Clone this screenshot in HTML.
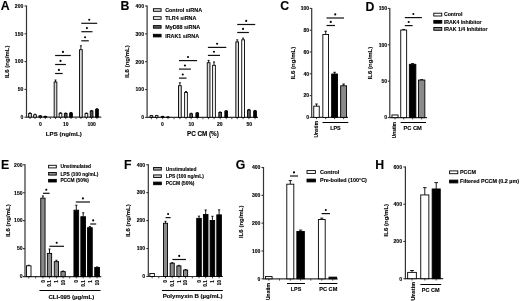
<!DOCTYPE html>
<html><head><meta charset="utf-8"><style>
html,body{margin:0;padding:0;background:#fff;}
body{width:520px;height:301px;overflow:hidden;}
svg{display:block;will-change:transform;filter:blur(0.3px);}
text{font-family:"Liberation Sans", sans-serif;font-weight:bold;fill:#000;stroke:#000;stroke-width:0.12px;}
</style></head><body>
<svg width="520" height="301" viewBox="0 0 520 301">
<rect x="0" y="0" width="520" height="301" fill="#fff"/>
<text x="0.7" y="9.8" font-size="12.3" stroke="#000" stroke-width="0.55">A</text>
<line x1="26.5" y1="5.5" x2="26.5" y2="117.7" stroke="#333" stroke-width="1.2"/>
<line x1="24.5" y1="117.2" x2="26.5" y2="117.2" stroke="#333" stroke-width="1.1"/>
<text x="23.3" y="119.04" font-size="5.1" text-anchor="end">0</text>
<line x1="24.5" y1="89.4" x2="26.5" y2="89.4" stroke="#333" stroke-width="1.1"/>
<text x="23.3" y="91.24" font-size="5.1" text-anchor="end">50</text>
<line x1="24.5" y1="61.6" x2="26.5" y2="61.6" stroke="#333" stroke-width="1.1"/>
<text x="23.3" y="63.44" font-size="5.1" text-anchor="end">100</text>
<line x1="24.5" y1="33.8" x2="26.5" y2="33.8" stroke="#333" stroke-width="1.1"/>
<text x="23.3" y="35.64" font-size="5.1" text-anchor="end">150</text>
<line x1="24.5" y1="6" x2="26.5" y2="6" stroke="#333" stroke-width="1.1"/>
<text x="23.3" y="7.84" font-size="5.1" text-anchor="end">200</text>
<text x="6.55" y="63.98" font-size="6.05" text-anchor="middle" transform="rotate(-90 6.55 61.8)">IL6 (ng/mL)</text>
<line x1="26.5" y1="117.2" x2="101.3" y2="117.2" stroke="#333" stroke-width="1.2"/>
<line x1="30" y1="117.2" x2="30" y2="119" stroke="#333" stroke-width="0.9"/>
<line x1="35" y1="117.2" x2="35" y2="119" stroke="#333" stroke-width="0.9"/>
<line x1="40.3" y1="117.2" x2="40.3" y2="119" stroke="#333" stroke-width="0.9"/>
<line x1="45.3" y1="117.2" x2="45.3" y2="119" stroke="#333" stroke-width="0.9"/>
<line x1="50.4" y1="117.2" x2="50.4" y2="119" stroke="#333" stroke-width="0.9"/>
<line x1="55.5" y1="117.2" x2="55.5" y2="119" stroke="#333" stroke-width="0.9"/>
<line x1="60.5" y1="117.2" x2="60.5" y2="119" stroke="#333" stroke-width="0.9"/>
<line x1="65.7" y1="117.2" x2="65.7" y2="119" stroke="#333" stroke-width="0.9"/>
<line x1="71" y1="117.2" x2="71" y2="119" stroke="#333" stroke-width="0.9"/>
<line x1="76" y1="117.2" x2="76" y2="119" stroke="#333" stroke-width="0.9"/>
<line x1="80.9" y1="117.2" x2="80.9" y2="119" stroke="#333" stroke-width="0.9"/>
<line x1="86.4" y1="117.2" x2="86.4" y2="119" stroke="#333" stroke-width="0.9"/>
<line x1="91.6" y1="117.2" x2="91.6" y2="119" stroke="#333" stroke-width="0.9"/>
<line x1="97" y1="117.2" x2="97" y2="119" stroke="#333" stroke-width="0.9"/>
<line x1="30" y1="113.47" x2="30" y2="112.92" stroke="#000" stroke-width="0.9"/>
<line x1="29" y1="112.92" x2="31" y2="112.92" stroke="#000" stroke-width="0.9"/>
<rect x="28.65" y="113.47" width="2.7" height="3.73" fill="#d8d8d8" stroke="#000" stroke-width="0.9"/>
<line x1="35" y1="114.81" x2="35" y2="114.25" stroke="#000" stroke-width="0.9"/>
<line x1="34" y1="114.25" x2="36" y2="114.25" stroke="#000" stroke-width="0.9"/>
<rect x="33.65" y="114.81" width="2.7" height="2.39" fill="#fff" stroke="#000" stroke-width="0.9"/>
<line x1="40.3" y1="115.98" x2="40.3" y2="115.7" stroke="#000" stroke-width="0.9"/>
<line x1="39.3" y1="115.7" x2="41.3" y2="115.7" stroke="#000" stroke-width="0.9"/>
<rect x="38.95" y="115.98" width="2.7" height="1.22" fill="#5a5a5a" stroke="#000" stroke-width="0.9"/>
<line x1="45.3" y1="116.48" x2="45.3" y2="116.2" stroke="#000" stroke-width="0.9"/>
<line x1="44.3" y1="116.2" x2="46.3" y2="116.2" stroke="#000" stroke-width="0.9"/>
<rect x="43.95" y="116.48" width="2.7" height="0.72" fill="#000" stroke="#000" stroke-width="0.9"/>
<line x1="55.5" y1="82.01" x2="55.5" y2="80.06" stroke="#000" stroke-width="0.9"/>
<line x1="54.5" y1="80.06" x2="56.5" y2="80.06" stroke="#000" stroke-width="0.9"/>
<rect x="54.15" y="82.01" width="2.7" height="35.19" fill="#d8d8d8" stroke="#000" stroke-width="0.9"/>
<line x1="60.5" y1="113.31" x2="60.5" y2="112.75" stroke="#000" stroke-width="0.9"/>
<line x1="59.5" y1="112.75" x2="61.5" y2="112.75" stroke="#000" stroke-width="0.9"/>
<rect x="59.15" y="113.31" width="2.7" height="3.89" fill="#fff" stroke="#000" stroke-width="0.9"/>
<line x1="65.7" y1="113.59" x2="65.7" y2="113.03" stroke="#000" stroke-width="0.9"/>
<line x1="64.7" y1="113.03" x2="66.7" y2="113.03" stroke="#000" stroke-width="0.9"/>
<rect x="64.35" y="113.59" width="2.7" height="3.61" fill="#5a5a5a" stroke="#000" stroke-width="0.9"/>
<line x1="71" y1="113.03" x2="71" y2="112.47" stroke="#000" stroke-width="0.9"/>
<line x1="70" y1="112.47" x2="72" y2="112.47" stroke="#000" stroke-width="0.9"/>
<rect x="69.65" y="113.03" width="2.7" height="4.17" fill="#000" stroke="#000" stroke-width="0.9"/>
<line x1="80.9" y1="49.7" x2="80.9" y2="45.81" stroke="#000" stroke-width="0.9"/>
<line x1="79.9" y1="45.81" x2="81.9" y2="45.81" stroke="#000" stroke-width="0.9"/>
<rect x="79.55" y="49.7" width="2.7" height="67.5" fill="#d8d8d8" stroke="#000" stroke-width="0.9"/>
<line x1="86.4" y1="113.59" x2="86.4" y2="113.03" stroke="#000" stroke-width="0.9"/>
<line x1="85.4" y1="113.03" x2="87.4" y2="113.03" stroke="#000" stroke-width="0.9"/>
<rect x="85.05" y="113.59" width="2.7" height="3.61" fill="#fff" stroke="#000" stroke-width="0.9"/>
<line x1="91.6" y1="111.08" x2="91.6" y2="110.53" stroke="#000" stroke-width="0.9"/>
<line x1="90.6" y1="110.53" x2="92.6" y2="110.53" stroke="#000" stroke-width="0.9"/>
<rect x="90.25" y="111.08" width="2.7" height="6.12" fill="#5a5a5a" stroke="#000" stroke-width="0.9"/>
<line x1="97" y1="109.3" x2="97" y2="108.75" stroke="#000" stroke-width="0.9"/>
<line x1="96" y1="108.75" x2="98" y2="108.75" stroke="#000" stroke-width="0.9"/>
<rect x="95.65" y="109.3" width="2.7" height="7.9" fill="#000" stroke="#000" stroke-width="0.9"/>
<text x="40.3" y="125.8" font-size="5" text-anchor="middle">0</text>
<text x="65.7" y="125.8" font-size="5" text-anchor="middle">10</text>
<text x="91.6" y="125.8" font-size="5" text-anchor="middle">100</text>
<text x="63.8" y="136" font-size="6.1" text-anchor="middle">LPS (ng/mL)</text>
<line x1="55.1" y1="55.5" x2="70.8" y2="55.5" stroke="#111" stroke-width="1.2"/>
<circle cx="62.95" cy="51.9" r="1.05" fill="#000"/>
<line x1="55.1" y1="64.5" x2="65.9" y2="64.5" stroke="#111" stroke-width="1.2"/>
<circle cx="60.5" cy="60.9" r="1.05" fill="#000"/>
<line x1="55.1" y1="73.5" x2="62.7" y2="73.5" stroke="#111" stroke-width="1.2"/>
<circle cx="58.9" cy="69.9" r="1.05" fill="#000"/>
<line x1="81.3" y1="23.3" x2="97.2" y2="23.3" stroke="#111" stroke-width="1.2"/>
<circle cx="89.25" cy="19.7" r="1.05" fill="#000"/>
<line x1="81.3" y1="31.7" x2="92.5" y2="31.7" stroke="#111" stroke-width="1.2"/>
<circle cx="86.9" cy="28.1" r="1.05" fill="#000"/>
<line x1="81.3" y1="40.8" x2="88.8" y2="40.8" stroke="#111" stroke-width="1.2"/>
<circle cx="85.05" cy="37.2" r="1.05" fill="#000"/>
<text x="120.4" y="9.7" font-size="12.3" stroke="#000" stroke-width="0.55">B</text>
<line x1="147.1" y1="5.5" x2="147.1" y2="117.9" stroke="#333" stroke-width="1.2"/>
<line x1="145.1" y1="117.4" x2="147.1" y2="117.4" stroke="#333" stroke-width="1.1"/>
<text x="144" y="119.24" font-size="5.1" text-anchor="end">0</text>
<line x1="145.1" y1="89.55" x2="147.1" y2="89.55" stroke="#333" stroke-width="1.1"/>
<text x="144" y="91.39" font-size="5.1" text-anchor="end">100</text>
<line x1="145.1" y1="61.7" x2="147.1" y2="61.7" stroke="#333" stroke-width="1.1"/>
<text x="144" y="63.54" font-size="5.1" text-anchor="end">200</text>
<line x1="145.1" y1="33.85" x2="147.1" y2="33.85" stroke="#333" stroke-width="1.1"/>
<text x="144" y="35.69" font-size="5.1" text-anchor="end">300</text>
<line x1="145.1" y1="6" x2="147.1" y2="6" stroke="#333" stroke-width="1.1"/>
<text x="144" y="7.84" font-size="5.1" text-anchor="end">400</text>
<text x="127.2" y="63.63" font-size="6.05" text-anchor="middle" transform="rotate(-90 127.2 61.45)">IL6 (ng/mL)</text>
<line x1="147.1" y1="117.4" x2="258" y2="117.4" stroke="#333" stroke-width="1.2"/>
<line x1="151.4" y1="117.4" x2="151.4" y2="119.2" stroke="#333" stroke-width="0.9"/>
<line x1="156.7" y1="117.4" x2="156.7" y2="119.2" stroke="#333" stroke-width="0.9"/>
<line x1="162.6" y1="117.4" x2="162.6" y2="119.2" stroke="#333" stroke-width="0.9"/>
<line x1="168" y1="117.4" x2="168" y2="119.2" stroke="#333" stroke-width="0.9"/>
<line x1="179.9" y1="117.4" x2="179.9" y2="119.2" stroke="#333" stroke-width="0.9"/>
<line x1="186" y1="117.4" x2="186" y2="119.2" stroke="#333" stroke-width="0.9"/>
<line x1="191.15" y1="117.4" x2="191.15" y2="119.2" stroke="#333" stroke-width="0.9"/>
<line x1="197.25" y1="117.4" x2="197.25" y2="119.2" stroke="#333" stroke-width="0.9"/>
<line x1="208.6" y1="117.4" x2="208.6" y2="119.2" stroke="#333" stroke-width="0.9"/>
<line x1="214" y1="117.4" x2="214" y2="119.2" stroke="#333" stroke-width="0.9"/>
<line x1="220.2" y1="117.4" x2="220.2" y2="119.2" stroke="#333" stroke-width="0.9"/>
<line x1="226.2" y1="117.4" x2="226.2" y2="119.2" stroke="#333" stroke-width="0.9"/>
<line x1="237.2" y1="117.4" x2="237.2" y2="119.2" stroke="#333" stroke-width="0.9"/>
<line x1="243.1" y1="117.4" x2="243.1" y2="119.2" stroke="#333" stroke-width="0.9"/>
<line x1="248.9" y1="117.4" x2="248.9" y2="119.2" stroke="#333" stroke-width="0.9"/>
<line x1="255.05" y1="117.4" x2="255.05" y2="119.2" stroke="#333" stroke-width="0.9"/>
<line x1="174" y1="117.4" x2="174" y2="119.2" stroke="#333" stroke-width="0.9"/>
<line x1="202.9" y1="117.4" x2="202.9" y2="119.2" stroke="#333" stroke-width="0.9"/>
<line x1="231.8" y1="117.4" x2="231.8" y2="119.2" stroke="#333" stroke-width="0.9"/>
<line x1="151.4" y1="115.73" x2="151.4" y2="115.45" stroke="#000" stroke-width="0.9"/>
<line x1="150.4" y1="115.45" x2="152.4" y2="115.45" stroke="#000" stroke-width="0.9"/>
<rect x="150.05" y="115.73" width="2.7" height="1.67" fill="#d8d8d8" stroke="#000" stroke-width="0.9"/>
<line x1="156.7" y1="115.73" x2="156.7" y2="115.45" stroke="#000" stroke-width="0.9"/>
<line x1="155.7" y1="115.45" x2="157.7" y2="115.45" stroke="#000" stroke-width="0.9"/>
<rect x="155.35" y="115.73" width="2.7" height="1.67" fill="#fff" stroke="#000" stroke-width="0.9"/>
<line x1="162.6" y1="116.56" x2="162.6" y2="116.29" stroke="#000" stroke-width="0.9"/>
<line x1="161.6" y1="116.29" x2="163.6" y2="116.29" stroke="#000" stroke-width="0.9"/>
<rect x="161.25" y="116.56" width="2.7" height="0.84" fill="#5a5a5a" stroke="#000" stroke-width="0.9"/>
<line x1="168" y1="117.12" x2="168" y2="116.84" stroke="#000" stroke-width="0.9"/>
<line x1="167" y1="116.84" x2="169" y2="116.84" stroke="#000" stroke-width="0.9"/>
<rect x="166.65" y="117.12" width="2.7" height="0.28" fill="#000" stroke="#000" stroke-width="0.9"/>
<line x1="179.9" y1="85.71" x2="179.9" y2="82.81" stroke="#000" stroke-width="0.9"/>
<line x1="178.9" y1="82.81" x2="180.9" y2="82.81" stroke="#000" stroke-width="0.9"/>
<rect x="178.55" y="85.71" width="2.7" height="31.69" fill="#d8d8d8" stroke="#000" stroke-width="0.9"/>
<line x1="186" y1="92.39" x2="186" y2="91.56" stroke="#000" stroke-width="0.9"/>
<line x1="185" y1="91.56" x2="187" y2="91.56" stroke="#000" stroke-width="0.9"/>
<rect x="184.65" y="92.39" width="2.7" height="25.01" fill="#fff" stroke="#000" stroke-width="0.9"/>
<line x1="191.15" y1="113.81" x2="191.15" y2="113.25" stroke="#000" stroke-width="0.9"/>
<line x1="190.15" y1="113.25" x2="192.15" y2="113.25" stroke="#000" stroke-width="0.9"/>
<rect x="189.8" y="113.81" width="2.7" height="3.59" fill="#5a5a5a" stroke="#000" stroke-width="0.9"/>
<line x1="197.25" y1="113.11" x2="197.25" y2="112.55" stroke="#000" stroke-width="0.9"/>
<line x1="196.25" y1="112.55" x2="198.25" y2="112.55" stroke="#000" stroke-width="0.9"/>
<rect x="195.9" y="113.11" width="2.7" height="4.29" fill="#000" stroke="#000" stroke-width="0.9"/>
<line x1="208.6" y1="62.7" x2="208.6" y2="60.39" stroke="#000" stroke-width="0.9"/>
<line x1="207.6" y1="60.39" x2="209.6" y2="60.39" stroke="#000" stroke-width="0.9"/>
<rect x="207.25" y="62.7" width="2.7" height="54.7" fill="#d8d8d8" stroke="#000" stroke-width="0.9"/>
<line x1="214" y1="65.32" x2="214" y2="61.98" stroke="#000" stroke-width="0.9"/>
<line x1="213" y1="61.98" x2="215" y2="61.98" stroke="#000" stroke-width="0.9"/>
<rect x="212.65" y="65.32" width="2.7" height="52.08" fill="#fff" stroke="#000" stroke-width="0.9"/>
<line x1="220.2" y1="112.5" x2="220.2" y2="111.94" stroke="#000" stroke-width="0.9"/>
<line x1="219.2" y1="111.94" x2="221.2" y2="111.94" stroke="#000" stroke-width="0.9"/>
<rect x="218.85" y="112.5" width="2.7" height="4.9" fill="#5a5a5a" stroke="#000" stroke-width="0.9"/>
<line x1="226.2" y1="111.19" x2="226.2" y2="110.63" stroke="#000" stroke-width="0.9"/>
<line x1="225.2" y1="110.63" x2="227.2" y2="110.63" stroke="#000" stroke-width="0.9"/>
<rect x="224.85" y="111.19" width="2.7" height="6.21" fill="#000" stroke="#000" stroke-width="0.9"/>
<line x1="237.2" y1="41.93" x2="237.2" y2="39.84" stroke="#000" stroke-width="0.9"/>
<line x1="236.2" y1="39.84" x2="238.2" y2="39.84" stroke="#000" stroke-width="0.9"/>
<rect x="235.85" y="41.93" width="2.7" height="75.47" fill="#d8d8d8" stroke="#000" stroke-width="0.9"/>
<line x1="243.1" y1="39.81" x2="243.1" y2="38.14" stroke="#000" stroke-width="0.9"/>
<line x1="242.1" y1="38.14" x2="244.1" y2="38.14" stroke="#000" stroke-width="0.9"/>
<rect x="241.75" y="39.81" width="2.7" height="77.59" fill="#fff" stroke="#000" stroke-width="0.9"/>
<line x1="248.9" y1="109.99" x2="248.9" y2="109.43" stroke="#000" stroke-width="0.9"/>
<line x1="247.9" y1="109.43" x2="249.9" y2="109.43" stroke="#000" stroke-width="0.9"/>
<rect x="247.55" y="109.99" width="2.7" height="7.41" fill="#5a5a5a" stroke="#000" stroke-width="0.9"/>
<line x1="255.05" y1="110.99" x2="255.05" y2="110.44" stroke="#000" stroke-width="0.9"/>
<line x1="254.05" y1="110.44" x2="256.05" y2="110.44" stroke="#000" stroke-width="0.9"/>
<rect x="253.7" y="110.99" width="2.7" height="6.41" fill="#000" stroke="#000" stroke-width="0.9"/>
<text x="162.5" y="125.8" font-size="5" text-anchor="middle">0</text>
<text x="191.3" y="125.8" font-size="5" text-anchor="middle">10</text>
<text x="219.8" y="125.8" font-size="5" text-anchor="middle">20</text>
<text x="249.2" y="125.8" font-size="5" text-anchor="middle">50</text>
<text x="202.9" y="135.67" font-size="6.3" text-anchor="middle">PC CM (%)</text>
<line x1="179" y1="60.6" x2="197.1" y2="60.6" stroke="#111" stroke-width="1.2"/>
<circle cx="188.05" cy="57" r="1.05" fill="#000"/>
<line x1="179" y1="69.1" x2="190.9" y2="69.1" stroke="#111" stroke-width="1.2"/>
<circle cx="184.95" cy="65.5" r="1.05" fill="#000"/>
<line x1="179" y1="78.1" x2="186.5" y2="78.1" stroke="#111" stroke-width="1.2"/>
<circle cx="182.75" cy="74.5" r="1.05" fill="#000"/>
<line x1="207.9" y1="47.4" x2="226.3" y2="47.4" stroke="#111" stroke-width="1.2"/>
<circle cx="217.1" cy="43.8" r="1.05" fill="#000"/>
<line x1="207.9" y1="55.4" x2="220" y2="55.4" stroke="#111" stroke-width="1.2"/>
<circle cx="213.95" cy="51.8" r="1.05" fill="#000"/>
<line x1="237.2" y1="24.5" x2="255.2" y2="24.5" stroke="#111" stroke-width="1.2"/>
<circle cx="246.2" cy="20.9" r="1.05" fill="#000"/>
<line x1="237.2" y1="32.5" x2="248.9" y2="32.5" stroke="#111" stroke-width="1.2"/>
<circle cx="243.05" cy="28.9" r="1.05" fill="#000"/>
<rect x="153.4" y="8.7" width="7.7" height="2.6" fill="#d8d8d8" stroke="#000" stroke-width="0.9"/>
<text x="165.2" y="11.94" font-size="5.4" text-anchor="start">Control siRNA</text>
<rect x="153.4" y="16.7" width="7.7" height="2.6" fill="#fff" stroke="#000" stroke-width="0.9"/>
<text x="165.2" y="19.94" font-size="5.4" text-anchor="start">TLR4 siRNA</text>
<rect x="153.4" y="25.6" width="7.7" height="2.6" fill="#5a5a5a" stroke="#000" stroke-width="0.9"/>
<text x="165.2" y="28.84" font-size="5.4" text-anchor="start">MyD88 siRNA</text>
<rect x="153.4" y="34.3" width="7.7" height="2.6" fill="#000" stroke="#000" stroke-width="0.9"/>
<text x="165.2" y="37.54" font-size="5.4" text-anchor="start">IRAK1 siRNA</text>
<text x="280.3" y="10.4" font-size="12.3" stroke="#000" stroke-width="0.55">C</text>
<line x1="311.7" y1="7.9" x2="311.7" y2="117.9" stroke="#333" stroke-width="1.2"/>
<line x1="309.7" y1="117.4" x2="311.7" y2="117.4" stroke="#333" stroke-width="1.1"/>
<text x="309.2" y="119.24" font-size="5.1" text-anchor="end">0</text>
<line x1="309.7" y1="95.6" x2="311.7" y2="95.6" stroke="#333" stroke-width="1.1"/>
<text x="309.2" y="97.44" font-size="5.1" text-anchor="end">20</text>
<line x1="309.7" y1="73.8" x2="311.7" y2="73.8" stroke="#333" stroke-width="1.1"/>
<text x="309.2" y="75.64" font-size="5.1" text-anchor="end">40</text>
<line x1="309.7" y1="52" x2="311.7" y2="52" stroke="#333" stroke-width="1.1"/>
<text x="309.2" y="53.84" font-size="5.1" text-anchor="end">60</text>
<line x1="309.7" y1="30.2" x2="311.7" y2="30.2" stroke="#333" stroke-width="1.1"/>
<text x="309.2" y="32.04" font-size="5.1" text-anchor="end">80</text>
<line x1="309.7" y1="8.4" x2="311.7" y2="8.4" stroke="#333" stroke-width="1.1"/>
<text x="309.2" y="10.24" font-size="5.1" text-anchor="end">100</text>
<text x="292.85" y="65.23" font-size="6.05" text-anchor="middle" transform="rotate(-90 292.85 63.05)">IL6 (ng/mL)</text>
<line x1="311.7" y1="117.4" x2="348" y2="117.4" stroke="#333" stroke-width="1.2"/>
<line x1="316.5" y1="117.4" x2="316.5" y2="119.2" stroke="#333" stroke-width="0.9"/>
<line x1="325.7" y1="117.4" x2="325.7" y2="119.2" stroke="#333" stroke-width="0.9"/>
<line x1="334.6" y1="117.4" x2="334.6" y2="119.2" stroke="#333" stroke-width="0.9"/>
<line x1="343.6" y1="117.4" x2="343.6" y2="119.2" stroke="#333" stroke-width="0.9"/>
<line x1="316.5" y1="106.17" x2="316.5" y2="103.99" stroke="#000" stroke-width="0.9"/>
<line x1="315.22" y1="103.99" x2="317.78" y2="103.99" stroke="#000" stroke-width="0.9"/>
<rect x="313.75" y="106.17" width="5.5" height="11.23" fill="#fff" stroke="#000" stroke-width="0.9"/>
<line x1="325.7" y1="34.45" x2="325.7" y2="31.18" stroke="#000" stroke-width="0.9"/>
<line x1="324.38" y1="31.18" x2="327.02" y2="31.18" stroke="#000" stroke-width="0.9"/>
<rect x="322.85" y="34.45" width="5.7" height="82.95" fill="#fff" stroke="#000" stroke-width="0.9"/>
<line x1="334.6" y1="74.02" x2="334.6" y2="72.27" stroke="#000" stroke-width="0.9"/>
<line x1="333.24" y1="72.27" x2="335.96" y2="72.27" stroke="#000" stroke-width="0.9"/>
<rect x="331.65" y="74.02" width="5.9" height="43.38" fill="#000" stroke="#000" stroke-width="0.9"/>
<line x1="343.6" y1="85.79" x2="343.6" y2="84.05" stroke="#000" stroke-width="0.9"/>
<line x1="342.24" y1="84.05" x2="344.96" y2="84.05" stroke="#000" stroke-width="0.9"/>
<rect x="340.65" y="85.79" width="5.9" height="31.61" fill="#8a8a8a" stroke="#000" stroke-width="0.9"/>
<text x="316.5" y="130.96" font-size="4.9" text-anchor="middle" transform="rotate(-90 316.5 129.2)">Unstim</text>
<line x1="322.5" y1="122.5" x2="348.3" y2="122.5" stroke="#000" stroke-width="1"/>
<text x="335.4" y="130.24" font-size="5.4" text-anchor="middle">LPS</text>
<line x1="326.5" y1="18" x2="344" y2="18" stroke="#111" stroke-width="1.2"/>
<circle cx="335.25" cy="14.4" r="1.05" fill="#000"/>
<line x1="326.5" y1="25.5" x2="335" y2="25.5" stroke="#111" stroke-width="1.2"/>
<circle cx="330.75" cy="21.9" r="1.05" fill="#000"/>
<text x="365.6" y="11" font-size="12.3" stroke="#000" stroke-width="0.55">D</text>
<line x1="389.8" y1="7.9" x2="389.8" y2="118.1" stroke="#333" stroke-width="1.2"/>
<line x1="387.8" y1="117.6" x2="389.8" y2="117.6" stroke="#333" stroke-width="1.1"/>
<text x="387.2" y="119.44" font-size="5.1" text-anchor="end">0</text>
<line x1="387.8" y1="81.2" x2="389.8" y2="81.2" stroke="#333" stroke-width="1.1"/>
<text x="387.2" y="83.04" font-size="5.1" text-anchor="end">50</text>
<line x1="387.8" y1="44.8" x2="389.8" y2="44.8" stroke="#333" stroke-width="1.1"/>
<text x="387.2" y="46.64" font-size="5.1" text-anchor="end">100</text>
<line x1="387.8" y1="8.4" x2="389.8" y2="8.4" stroke="#333" stroke-width="1.1"/>
<text x="387.2" y="10.24" font-size="5.1" text-anchor="end">150</text>
<text x="370.2" y="65.23" font-size="6.05" text-anchor="middle" transform="rotate(-90 370.2 63.05)">IL6 (ng/mL)</text>
<line x1="389.8" y1="117.6" x2="427" y2="117.6" stroke="#333" stroke-width="1.2"/>
<line x1="395" y1="117.6" x2="395" y2="119.4" stroke="#333" stroke-width="0.9"/>
<line x1="403.7" y1="117.6" x2="403.7" y2="119.4" stroke="#333" stroke-width="0.9"/>
<line x1="412.6" y1="117.6" x2="412.6" y2="119.4" stroke="#333" stroke-width="0.9"/>
<line x1="421.7" y1="117.6" x2="421.7" y2="119.4" stroke="#333" stroke-width="0.9"/>
<rect x="391.95" y="114.98" width="6.1" height="2.62" fill="#fff" stroke="#000" stroke-width="0.9"/>
<line x1="403.7" y1="30.02" x2="403.7" y2="29.44" stroke="#000" stroke-width="0.9"/>
<line x1="402.34" y1="29.44" x2="405.06" y2="29.44" stroke="#000" stroke-width="0.9"/>
<rect x="400.75" y="30.02" width="5.9" height="87.58" fill="#fff" stroke="#000" stroke-width="0.9"/>
<line x1="412.6" y1="64.31" x2="412.6" y2="63.58" stroke="#000" stroke-width="0.9"/>
<line x1="411.12" y1="63.58" x2="414.08" y2="63.58" stroke="#000" stroke-width="0.9"/>
<rect x="409.35" y="64.31" width="6.5" height="53.29" fill="#000" stroke="#000" stroke-width="0.9"/>
<line x1="421.7" y1="80.04" x2="421.7" y2="79.6" stroke="#000" stroke-width="0.9"/>
<line x1="420.26" y1="79.6" x2="423.14" y2="79.6" stroke="#000" stroke-width="0.9"/>
<rect x="418.55" y="80.04" width="6.3" height="37.56" fill="#8a8a8a" stroke="#000" stroke-width="0.9"/>
<text x="394.4" y="131.73" font-size="4.8" text-anchor="middle" transform="rotate(-90 394.4 130)">Unstim</text>
<line x1="400.6" y1="122.5" x2="426" y2="122.5" stroke="#000" stroke-width="1"/>
<text x="412.7" y="130.05" font-size="5.7" text-anchor="middle">PC CM</text>
<line x1="404.8" y1="17.6" x2="421.9" y2="17.6" stroke="#111" stroke-width="1.2"/>
<circle cx="413.35" cy="14" r="1.05" fill="#000"/>
<line x1="404.8" y1="25.6" x2="412.6" y2="25.6" stroke="#111" stroke-width="1.2"/>
<circle cx="408.7" cy="22" r="1.05" fill="#000"/>
<rect x="433.8" y="13.2" width="8" height="2.8" fill="#fff" stroke="#000" stroke-width="0.9"/>
<text x="443.9" y="16.47" font-size="5.2" text-anchor="start">Control</text>
<rect x="433.8" y="20.4" width="8" height="2.8" fill="#000" stroke="#000" stroke-width="0.9"/>
<text x="443.9" y="23.67" font-size="5.2" text-anchor="start">IRAK4 Inhibitor</text>
<rect x="433.8" y="27.5" width="8" height="2.8" fill="#8a8a8a" stroke="#000" stroke-width="0.9"/>
<text x="443.9" y="30.77" font-size="5.2" text-anchor="start">IRAK 1/4 Inhibitor</text>
<text x="1" y="169.2" font-size="12.3" stroke="#000" stroke-width="0.55">E</text>
<line x1="25" y1="164.2" x2="25" y2="277.1" stroke="#333" stroke-width="1.2"/>
<line x1="23" y1="276.6" x2="25" y2="276.6" stroke="#333" stroke-width="1.1"/>
<text x="22.6" y="278.44" font-size="5.1" text-anchor="end">0</text>
<line x1="23" y1="248.62" x2="25" y2="248.62" stroke="#333" stroke-width="1.1"/>
<text x="22.6" y="250.46" font-size="5.1" text-anchor="end">50</text>
<line x1="23" y1="220.65" x2="25" y2="220.65" stroke="#333" stroke-width="1.1"/>
<text x="22.6" y="222.49" font-size="5.1" text-anchor="end">100</text>
<line x1="23" y1="192.68" x2="25" y2="192.68" stroke="#333" stroke-width="1.1"/>
<text x="22.6" y="194.51" font-size="5.1" text-anchor="end">150</text>
<line x1="23" y1="164.7" x2="25" y2="164.7" stroke="#333" stroke-width="1.1"/>
<text x="22.6" y="166.54" font-size="5.1" text-anchor="end">200</text>
<text x="7.55" y="222.73" font-size="6.05" text-anchor="middle" transform="rotate(-90 7.55 220.55)">IL6 (ng/mL)</text>
<line x1="25" y1="276.6" x2="101.3" y2="276.6" stroke="#333" stroke-width="1.2"/>
<line x1="28.75" y1="276.6" x2="28.75" y2="278.4" stroke="#333" stroke-width="0.9"/>
<line x1="35.6" y1="276.6" x2="35.6" y2="278.4" stroke="#333" stroke-width="0.9"/>
<line x1="42.9" y1="276.6" x2="42.9" y2="278.4" stroke="#333" stroke-width="0.9"/>
<line x1="49.5" y1="276.6" x2="49.5" y2="278.4" stroke="#333" stroke-width="0.9"/>
<line x1="56.4" y1="276.6" x2="56.4" y2="278.4" stroke="#333" stroke-width="0.9"/>
<line x1="63.1" y1="276.6" x2="63.1" y2="278.4" stroke="#333" stroke-width="0.9"/>
<line x1="69.7" y1="276.6" x2="69.7" y2="278.4" stroke="#333" stroke-width="0.9"/>
<line x1="76.3" y1="276.6" x2="76.3" y2="278.4" stroke="#333" stroke-width="0.9"/>
<line x1="83.2" y1="276.6" x2="83.2" y2="278.4" stroke="#333" stroke-width="0.9"/>
<line x1="89.9" y1="276.6" x2="89.9" y2="278.4" stroke="#333" stroke-width="0.9"/>
<line x1="97.1" y1="276.6" x2="97.1" y2="278.4" stroke="#333" stroke-width="0.9"/>
<line x1="28.75" y1="265.8" x2="28.75" y2="265.24" stroke="#000" stroke-width="0.9"/>
<line x1="27.67" y1="265.24" x2="29.83" y2="265.24" stroke="#000" stroke-width="0.9"/>
<rect x="26.5" y="265.8" width="4.5" height="10.8" fill="#fff" stroke="#000" stroke-width="0.9"/>
<line x1="42.9" y1="198.16" x2="42.9" y2="195.92" stroke="#000" stroke-width="0.9"/>
<line x1="41.86" y1="195.92" x2="43.94" y2="195.92" stroke="#000" stroke-width="0.9"/>
<rect x="40.75" y="198.16" width="4.3" height="78.44" fill="#8a8a8a" stroke="#000" stroke-width="0.9"/>
<line x1="49.5" y1="253.38" x2="49.5" y2="249.02" stroke="#000" stroke-width="0.9"/>
<line x1="48.46" y1="249.02" x2="50.54" y2="249.02" stroke="#000" stroke-width="0.9"/>
<rect x="47.35" y="253.38" width="4.3" height="23.22" fill="#8a8a8a" stroke="#000" stroke-width="0.9"/>
<line x1="56.4" y1="261.66" x2="56.4" y2="260.26" stroke="#000" stroke-width="0.9"/>
<line x1="55.36" y1="260.26" x2="57.44" y2="260.26" stroke="#000" stroke-width="0.9"/>
<rect x="54.25" y="261.66" width="4.3" height="14.94" fill="#8a8a8a" stroke="#000" stroke-width="0.9"/>
<line x1="63.1" y1="271.62" x2="63.1" y2="271.06" stroke="#000" stroke-width="0.9"/>
<line x1="62.06" y1="271.06" x2="64.14" y2="271.06" stroke="#000" stroke-width="0.9"/>
<rect x="60.95" y="271.62" width="4.3" height="4.98" fill="#8a8a8a" stroke="#000" stroke-width="0.9"/>
<line x1="76.3" y1="210.19" x2="76.3" y2="205.21" stroke="#000" stroke-width="0.9"/>
<line x1="75.18" y1="205.21" x2="77.42" y2="205.21" stroke="#000" stroke-width="0.9"/>
<rect x="73.95" y="210.19" width="4.7" height="66.41" fill="#000" stroke="#000" stroke-width="0.9"/>
<line x1="83.2" y1="216.73" x2="83.2" y2="212.82" stroke="#000" stroke-width="0.9"/>
<line x1="82.08" y1="212.82" x2="84.32" y2="212.82" stroke="#000" stroke-width="0.9"/>
<rect x="80.85" y="216.73" width="4.7" height="59.87" fill="#000" stroke="#000" stroke-width="0.9"/>
<line x1="89.9" y1="227.7" x2="89.9" y2="226.58" stroke="#000" stroke-width="0.9"/>
<line x1="88.78" y1="226.58" x2="91.02" y2="226.58" stroke="#000" stroke-width="0.9"/>
<rect x="87.55" y="227.7" width="4.7" height="48.9" fill="#000" stroke="#000" stroke-width="0.9"/>
<line x1="97.1" y1="267.42" x2="97.1" y2="266.98" stroke="#000" stroke-width="0.9"/>
<line x1="95.98" y1="266.98" x2="98.22" y2="266.98" stroke="#000" stroke-width="0.9"/>
<rect x="94.75" y="267.42" width="4.7" height="9.18" fill="#000" stroke="#000" stroke-width="0.9"/>
<text x="42.9" y="281.73" font-size="4.8" text-anchor="end" transform="rotate(-90 42.9 280)">0</text>
<text x="49.5" y="281.73" font-size="4.8" text-anchor="end" transform="rotate(-90 49.5 280)">0.1</text>
<text x="56.4" y="281.73" font-size="4.8" text-anchor="end" transform="rotate(-90 56.4 280)">1</text>
<text x="63.1" y="281.73" font-size="4.8" text-anchor="end" transform="rotate(-90 63.1 280)">10</text>
<text x="76.3" y="281.73" font-size="4.8" text-anchor="end" transform="rotate(-90 76.3 280)">0</text>
<text x="83.2" y="281.73" font-size="4.8" text-anchor="end" transform="rotate(-90 83.2 280)">0.1</text>
<text x="89.9" y="281.73" font-size="4.8" text-anchor="end" transform="rotate(-90 89.9 280)">1</text>
<text x="97.1" y="281.73" font-size="4.8" text-anchor="end" transform="rotate(-90 97.1 280)">10</text>
<line x1="39.4" y1="290.5" x2="100.5" y2="290.5" stroke="#000" stroke-width="1"/>
<text x="71.3" y="298.8" font-size="6.1" text-anchor="middle">CLI-095 (µg/mL)</text>
<line x1="43" y1="193.3" x2="49.6" y2="193.3" stroke="#111" stroke-width="1.2"/>
<circle cx="46.3" cy="189.7" r="1.05" fill="#000"/>
<line x1="49.4" y1="246.3" x2="64" y2="246.3" stroke="#111" stroke-width="1.2"/>
<circle cx="56.7" cy="242.7" r="1.05" fill="#000"/>
<line x1="75.8" y1="202" x2="90" y2="202" stroke="#111" stroke-width="1.2"/>
<circle cx="82.9" cy="198.4" r="1.05" fill="#000"/>
<line x1="90.2" y1="224" x2="96.2" y2="224" stroke="#111" stroke-width="1.2"/>
<circle cx="93.2" cy="220.4" r="1.05" fill="#000"/>
<rect x="48.6" y="165.3" width="7.7" height="2.6" fill="#fff" stroke="#000" stroke-width="0.9"/>
<text x="60.4" y="168.35" font-size="4.85" text-anchor="start">Unstimulated</text>
<rect x="48.6" y="172.5" width="7.7" height="2.6" fill="#8a8a8a" stroke="#000" stroke-width="0.9"/>
<text x="60.4" y="175.55" font-size="4.85" text-anchor="start">LPS (100 ng/mL)</text>
<rect x="48.6" y="179.4" width="7.7" height="2.6" fill="#000" stroke="#000" stroke-width="0.9"/>
<text x="60.4" y="182.45" font-size="4.85" text-anchor="start">PCCM (50%)</text>
<text x="124" y="169" font-size="12.3" stroke="#000" stroke-width="0.55">F</text>
<line x1="148.3" y1="164.2" x2="148.3" y2="277" stroke="#333" stroke-width="1.2"/>
<line x1="146.3" y1="276.5" x2="148.3" y2="276.5" stroke="#333" stroke-width="1.1"/>
<text x="145.2" y="278.34" font-size="5.1" text-anchor="end">0</text>
<line x1="146.3" y1="248.55" x2="148.3" y2="248.55" stroke="#333" stroke-width="1.1"/>
<text x="145.2" y="250.39" font-size="5.1" text-anchor="end">100</text>
<line x1="146.3" y1="220.6" x2="148.3" y2="220.6" stroke="#333" stroke-width="1.1"/>
<text x="145.2" y="222.44" font-size="5.1" text-anchor="end">200</text>
<line x1="146.3" y1="192.65" x2="148.3" y2="192.65" stroke="#333" stroke-width="1.1"/>
<text x="145.2" y="194.49" font-size="5.1" text-anchor="end">300</text>
<line x1="146.3" y1="164.7" x2="148.3" y2="164.7" stroke="#333" stroke-width="1.1"/>
<text x="145.2" y="166.54" font-size="5.1" text-anchor="end">400</text>
<text x="127.55" y="222.73" font-size="6.05" text-anchor="middle" transform="rotate(-90 127.55 220.55)">IL6 (ng/mL)</text>
<line x1="148.3" y1="276.5" x2="222.9" y2="276.5" stroke="#333" stroke-width="1.2"/>
<line x1="152.1" y1="276.5" x2="152.1" y2="278.3" stroke="#333" stroke-width="0.9"/>
<line x1="158.8" y1="276.5" x2="158.8" y2="278.3" stroke="#333" stroke-width="0.9"/>
<line x1="165.5" y1="276.5" x2="165.5" y2="278.3" stroke="#333" stroke-width="0.9"/>
<line x1="172.2" y1="276.5" x2="172.2" y2="278.3" stroke="#333" stroke-width="0.9"/>
<line x1="178.9" y1="276.5" x2="178.9" y2="278.3" stroke="#333" stroke-width="0.9"/>
<line x1="185.6" y1="276.5" x2="185.6" y2="278.3" stroke="#333" stroke-width="0.9"/>
<line x1="192.3" y1="276.5" x2="192.3" y2="278.3" stroke="#333" stroke-width="0.9"/>
<line x1="199" y1="276.5" x2="199" y2="278.3" stroke="#333" stroke-width="0.9"/>
<line x1="205.7" y1="276.5" x2="205.7" y2="278.3" stroke="#333" stroke-width="0.9"/>
<line x1="212.4" y1="276.5" x2="212.4" y2="278.3" stroke="#333" stroke-width="0.9"/>
<line x1="219.1" y1="276.5" x2="219.1" y2="278.3" stroke="#333" stroke-width="0.9"/>
<rect x="149.85" y="273.51" width="4.5" height="2.99" fill="#fff" stroke="#000" stroke-width="0.9"/>
<line x1="165.5" y1="223.26" x2="165.5" y2="221.3" stroke="#000" stroke-width="0.9"/>
<line x1="164.5" y1="221.3" x2="166.5" y2="221.3" stroke="#000" stroke-width="0.9"/>
<rect x="163.45" y="223.26" width="4.1" height="53.24" fill="#8a8a8a" stroke="#000" stroke-width="0.9"/>
<line x1="172.2" y1="263.22" x2="172.2" y2="262.66" stroke="#000" stroke-width="0.9"/>
<line x1="171.2" y1="262.66" x2="173.2" y2="262.66" stroke="#000" stroke-width="0.9"/>
<rect x="170.15" y="263.22" width="4.1" height="13.28" fill="#8a8a8a" stroke="#000" stroke-width="0.9"/>
<line x1="178.9" y1="265.91" x2="178.9" y2="265.35" stroke="#000" stroke-width="0.9"/>
<line x1="177.9" y1="265.35" x2="179.9" y2="265.35" stroke="#000" stroke-width="0.9"/>
<rect x="176.85" y="265.91" width="4.1" height="10.59" fill="#8a8a8a" stroke="#000" stroke-width="0.9"/>
<line x1="185.6" y1="270.07" x2="185.6" y2="269.51" stroke="#000" stroke-width="0.9"/>
<line x1="184.6" y1="269.51" x2="186.6" y2="269.51" stroke="#000" stroke-width="0.9"/>
<rect x="183.55" y="270.07" width="4.1" height="6.43" fill="#8a8a8a" stroke="#000" stroke-width="0.9"/>
<line x1="199" y1="218.36" x2="199" y2="216.13" stroke="#000" stroke-width="0.9"/>
<line x1="197.9" y1="216.13" x2="200.1" y2="216.13" stroke="#000" stroke-width="0.9"/>
<rect x="196.7" y="218.36" width="4.6" height="58.14" fill="#000" stroke="#000" stroke-width="0.9"/>
<line x1="205.7" y1="214.45" x2="205.7" y2="209.98" stroke="#000" stroke-width="0.9"/>
<line x1="204.6" y1="209.98" x2="206.8" y2="209.98" stroke="#000" stroke-width="0.9"/>
<rect x="203.4" y="214.45" width="4.6" height="62.05" fill="#000" stroke="#000" stroke-width="0.9"/>
<line x1="212.4" y1="220.46" x2="212.4" y2="216.27" stroke="#000" stroke-width="0.9"/>
<line x1="211.3" y1="216.27" x2="213.5" y2="216.27" stroke="#000" stroke-width="0.9"/>
<rect x="210.1" y="220.46" width="4.6" height="56.04" fill="#000" stroke="#000" stroke-width="0.9"/>
<line x1="219.1" y1="214.87" x2="219.1" y2="209.84" stroke="#000" stroke-width="0.9"/>
<line x1="218" y1="209.84" x2="220.2" y2="209.84" stroke="#000" stroke-width="0.9"/>
<rect x="216.8" y="214.87" width="4.6" height="61.63" fill="#000" stroke="#000" stroke-width="0.9"/>
<text x="165.5" y="281.73" font-size="4.8" text-anchor="end" transform="rotate(-90 165.5 280)">0</text>
<text x="172.2" y="281.73" font-size="4.8" text-anchor="end" transform="rotate(-90 172.2 280)">0.1</text>
<text x="178.9" y="281.73" font-size="4.8" text-anchor="end" transform="rotate(-90 178.9 280)">1</text>
<text x="185.6" y="281.73" font-size="4.8" text-anchor="end" transform="rotate(-90 185.6 280)">10</text>
<text x="199" y="281.73" font-size="4.8" text-anchor="end" transform="rotate(-90 199 280)">0</text>
<text x="205.7" y="281.73" font-size="4.8" text-anchor="end" transform="rotate(-90 205.7 280)">0.1</text>
<text x="212.4" y="281.73" font-size="4.8" text-anchor="end" transform="rotate(-90 212.4 280)">1</text>
<text x="219.1" y="281.73" font-size="4.8" text-anchor="end" transform="rotate(-90 219.1 280)">10</text>
<line x1="161.9" y1="290.5" x2="222.9" y2="290.5" stroke="#000" stroke-width="1"/>
<text x="192.6" y="297.78" font-size="6.05" text-anchor="middle">Polymyxin B (µg/mL)</text>
<line x1="165.6" y1="217.6" x2="170.6" y2="217.6" stroke="#111" stroke-width="1.2"/>
<circle cx="168.1" cy="214" r="1.05" fill="#000"/>
<line x1="172.4" y1="259.5" x2="186" y2="259.5" stroke="#111" stroke-width="1.2"/>
<circle cx="179.2" cy="255.9" r="1.05" fill="#000"/>
<rect x="153.6" y="167.5" width="7.7" height="2.6" fill="#a0a0a0" stroke="#000" stroke-width="0.9"/>
<text x="165.8" y="170.55" font-size="4.85" text-anchor="start">Unstimulated</text>
<rect x="153.6" y="174.9" width="7.7" height="2.6" fill="#c8c8c8" stroke="#000" stroke-width="0.9"/>
<text x="165.8" y="177.95" font-size="4.85" text-anchor="start">LPS (100 ng/mL)</text>
<rect x="153.6" y="182.1" width="7.7" height="2.6" fill="#000" stroke="#000" stroke-width="0.9"/>
<text x="165.8" y="185.15" font-size="4.85" text-anchor="start">PCCM (50%)</text>
<text x="235.8" y="169" font-size="12.3" stroke="#000" stroke-width="0.55">G</text>
<line x1="263.5" y1="167" x2="263.5" y2="279.3" stroke="#333" stroke-width="1.2"/>
<line x1="261.5" y1="278.8" x2="263.5" y2="278.8" stroke="#333" stroke-width="1.1"/>
<text x="260.4" y="280.64" font-size="5.1" text-anchor="end">0</text>
<line x1="261.5" y1="250.98" x2="263.5" y2="250.98" stroke="#333" stroke-width="1.1"/>
<text x="260.4" y="252.81" font-size="5.1" text-anchor="end">100</text>
<line x1="261.5" y1="223.15" x2="263.5" y2="223.15" stroke="#333" stroke-width="1.1"/>
<text x="260.4" y="224.99" font-size="5.1" text-anchor="end">200</text>
<line x1="261.5" y1="195.33" x2="263.5" y2="195.33" stroke="#333" stroke-width="1.1"/>
<text x="260.4" y="197.16" font-size="5.1" text-anchor="end">300</text>
<line x1="261.5" y1="167.5" x2="263.5" y2="167.5" stroke="#333" stroke-width="1.1"/>
<text x="260.4" y="169.34" font-size="5.1" text-anchor="end">400</text>
<text x="241.05" y="223.88" font-size="6.05" text-anchor="middle" transform="rotate(-90 241.05 221.7)">IL6 (ng/mL)</text>
<line x1="263.5" y1="278.8" x2="337.7" y2="278.8" stroke="#333" stroke-width="1.2"/>
<line x1="268.8" y1="278.8" x2="268.8" y2="280.6" stroke="#333" stroke-width="0.9"/>
<line x1="279.5" y1="278.8" x2="279.5" y2="280.6" stroke="#333" stroke-width="0.9"/>
<line x1="290.3" y1="278.8" x2="290.3" y2="280.6" stroke="#333" stroke-width="0.9"/>
<line x1="300.6" y1="278.8" x2="300.6" y2="280.6" stroke="#333" stroke-width="0.9"/>
<line x1="310.8" y1="278.8" x2="310.8" y2="280.6" stroke="#333" stroke-width="0.9"/>
<line x1="321.8" y1="278.8" x2="321.8" y2="280.6" stroke="#333" stroke-width="0.9"/>
<line x1="332.8" y1="278.8" x2="332.8" y2="280.6" stroke="#333" stroke-width="0.9"/>
<rect x="265.5" y="276.57" width="6.6" height="2.23" fill="#fff" stroke="#000" stroke-width="0.9"/>
<line x1="290.3" y1="184.19" x2="290.3" y2="180.58" stroke="#000" stroke-width="0.9"/>
<line x1="288.72" y1="180.58" x2="291.88" y2="180.58" stroke="#000" stroke-width="0.9"/>
<rect x="286.8" y="184.19" width="7" height="94.61" fill="#fff" stroke="#000" stroke-width="0.9"/>
<line x1="300.6" y1="231.5" x2="300.6" y2="230.11" stroke="#000" stroke-width="0.9"/>
<line x1="298.92" y1="230.11" x2="302.28" y2="230.11" stroke="#000" stroke-width="0.9"/>
<rect x="296.85" y="231.5" width="7.5" height="47.3" fill="#000" stroke="#000" stroke-width="0.9"/>
<line x1="321.8" y1="219.53" x2="321.8" y2="218.14" stroke="#000" stroke-width="0.9"/>
<line x1="320.26" y1="218.14" x2="323.34" y2="218.14" stroke="#000" stroke-width="0.9"/>
<rect x="318.4" y="219.53" width="6.8" height="59.27" fill="#fff" stroke="#000" stroke-width="0.9"/>
<rect x="329" y="277.13" width="7.6" height="1.67" fill="#000" stroke="#000" stroke-width="0.9"/>
<text x="268.6" y="293.3" font-size="5" text-anchor="middle" transform="rotate(-90 268.6 291.5)">Unstim</text>
<line x1="287" y1="283.5" x2="305" y2="283.5" stroke="#000" stroke-width="1"/>
<text x="296" y="290.54" font-size="5.4" text-anchor="middle">LPS</text>
<line x1="319" y1="283.5" x2="337.4" y2="283.5" stroke="#000" stroke-width="1"/>
<text x="328.3" y="290.62" font-size="5.6" text-anchor="middle">PC CM</text>
<line x1="290" y1="176" x2="298" y2="176" stroke="#111" stroke-width="1.2"/>
<circle cx="294" cy="172.4" r="1.05" fill="#000"/>
<line x1="321.6" y1="213.6" x2="330" y2="213.6" stroke="#111" stroke-width="1.2"/>
<circle cx="325.8" cy="210" r="1.05" fill="#000"/>
<rect x="307" y="170.6" width="8.4" height="2.8" fill="#fff" stroke="#000" stroke-width="0.9"/>
<text x="320" y="173.96" font-size="5.45" text-anchor="start">Control</text>
<rect x="307" y="179.1" width="8.4" height="2.8" fill="#000" stroke="#000" stroke-width="0.9"/>
<text x="320" y="182.46" font-size="5.45" text-anchor="start">Pre-boiled (100°C)</text>
<text x="375.2" y="169" font-size="12.3" stroke="#000" stroke-width="0.55">H</text>
<line x1="405.4" y1="166.5" x2="405.4" y2="279.2" stroke="#333" stroke-width="1.2"/>
<line x1="403.4" y1="278.7" x2="405.4" y2="278.7" stroke="#333" stroke-width="1.1"/>
<text x="402" y="280.54" font-size="5.1" text-anchor="end">0</text>
<line x1="403.4" y1="241.47" x2="405.4" y2="241.47" stroke="#333" stroke-width="1.1"/>
<text x="402" y="243.3" font-size="5.1" text-anchor="end">200</text>
<line x1="403.4" y1="204.23" x2="405.4" y2="204.23" stroke="#333" stroke-width="1.1"/>
<text x="402" y="206.07" font-size="5.1" text-anchor="end">400</text>
<line x1="403.4" y1="167" x2="405.4" y2="167" stroke="#333" stroke-width="1.1"/>
<text x="402" y="168.84" font-size="5.1" text-anchor="end">600</text>
<text x="385.9" y="222.33" font-size="6.05" text-anchor="middle" transform="rotate(-90 385.9 220.15)">IL6 (ng/mL)</text>
<line x1="405.4" y1="278.7" x2="443.2" y2="278.7" stroke="#333" stroke-width="1.2"/>
<line x1="412" y1="278.7" x2="412" y2="280.5" stroke="#333" stroke-width="0.9"/>
<line x1="424.8" y1="278.7" x2="424.8" y2="280.5" stroke="#333" stroke-width="0.9"/>
<line x1="436.2" y1="278.7" x2="436.2" y2="280.5" stroke="#333" stroke-width="0.9"/>
<line x1="412" y1="272.37" x2="412" y2="270.51" stroke="#000" stroke-width="0.9"/>
<line x1="410.08" y1="270.51" x2="413.92" y2="270.51" stroke="#000" stroke-width="0.9"/>
<rect x="407.65" y="272.37" width="8.7" height="6.33" fill="#fff" stroke="#000" stroke-width="0.9"/>
<line x1="424.8" y1="194.93" x2="424.8" y2="187.66" stroke="#000" stroke-width="0.9"/>
<line x1="423" y1="187.66" x2="426.6" y2="187.66" stroke="#000" stroke-width="0.9"/>
<rect x="420.75" y="194.93" width="8.1" height="83.77" fill="#fff" stroke="#000" stroke-width="0.9"/>
<line x1="436.2" y1="188.97" x2="436.2" y2="182.64" stroke="#000" stroke-width="0.9"/>
<line x1="434.4" y1="182.64" x2="438" y2="182.64" stroke="#000" stroke-width="0.9"/>
<rect x="432.15" y="188.97" width="8.1" height="89.73" fill="#000" stroke="#000" stroke-width="0.9"/>
<text x="412.8" y="293.18" font-size="5.5" text-anchor="middle" transform="rotate(-90 412.8 291.2)">Unstim</text>
<line x1="420.4" y1="284.5" x2="441.2" y2="284.5" stroke="#000" stroke-width="1"/>
<text x="430.7" y="291.68" font-size="5.5" text-anchor="middle">PC CM</text>
<rect x="449.6" y="170.9" width="8.2" height="2.8" fill="#fff" stroke="#000" stroke-width="0.9"/>
<text x="460" y="174.25" font-size="5.42" text-anchor="start">PCCM</text>
<rect x="449.6" y="180.1" width="8.2" height="2.8" fill="#000" stroke="#000" stroke-width="0.9"/>
<text x="460" y="183.45" font-size="5.42" text-anchor="start">Filtered PCCM (0.2 µm)</text>
</svg>
</body></html>
